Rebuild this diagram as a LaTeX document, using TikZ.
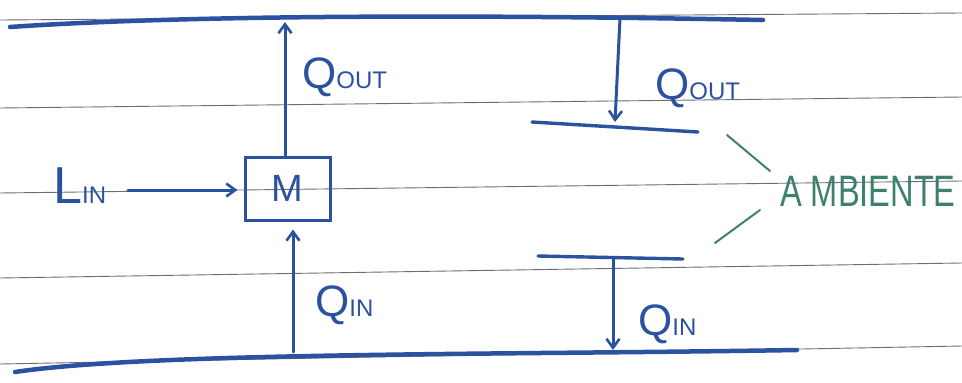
\documentclass[tikz,border=0pt]{standalone}
\usepackage{fontspec}
\setmainfont{Liberation Sans}
\usetikzlibrary{arrows.meta}
\definecolor{ink}{RGB}{42,82,160}
\definecolor{rule}{RGB}{110,110,110}
\definecolor{teal}{RGB}{62,128,112}
\tikzset{
  paper/.style={draw=rule, line width=0.9pt},
  mainline/.style={draw=ink, line width=4.5pt, line cap=round},
  ink/.style={draw=ink, line width=3pt, line cap=round},
  arr/.style={ink, -{Straight Barb[length=9pt,width=13pt,line width=2.6pt]}},
  lbl/.style={text=ink, inner sep=0pt, anchor=base west},
}
\newcommand{\subtxt}[1]{{\fontsize{24}{24}\selectfont #1}}
\begin{document}
\begin{tikzpicture}[x=1pt,y=-1pt]
\useasboundingbox[fill=white] (0,0) rectangle (962,383);
% ruled paper
\draw[paper] (0,20) -- (962,13);
\draw[paper] (0,108) -- (962,97);
\draw[paper] (0,193) -- (962,181);
\draw[paper] (0,278) -- (962,263);
\draw[paper] (0,364) -- (962,346);
% main boundary lines
\draw[mainline] (10,27) .. controls (200,14) and (500,15) .. (763,20);
\draw[mainline] (15,372) .. controls (150,352) and (500,355) .. (797,350);
% machine
\node[draw=ink, line width=3pt, minimum width=85pt, minimum height=63pt,
      text=ink, font=\fontsize{38}{38}\selectfont, inner sep=0pt] (M) at (287.5,188.5) {M};
\coordinate (topA) at (285,22);
\coordinate (botA) at (293,352);
\draw[arr] (M.north -| topA) -- (topA);
\draw[arr, shorten >=8pt] (botA) -- (botA |- M.south);
% L_in
\node[lbl] (Lin) at (53,203) {\fontsize{52}{52}\selectfont L\subtxt{IN}};
\coordinate (linS) at (128,190);
\draw[arr, shorten >=6pt] (linS) -- (linS -| M.west);
% labels left
\node[lbl] (qout1) at (302,88) {\fontsize{44}{44}\selectfont Q\subtxt{OUT}};
\node[lbl] (qin1) at (315,316) {\fontsize{44}{44}\selectfont Q\subtxt{IN}};
% right side
\coordinate (t2) at (620,18);
\coordinate (b1) at (615,122);
\coordinate (h1a) at (532,122);
\coordinate (h1b) at (698,132);
\draw[ink, line width=3.4pt] (h1a) -- (h1b);
\draw[arr] (t2) -- (b1);
\coordinate (h2a) at (538,256);
\coordinate (h2b) at (683,259);
\coordinate (t3) at (613,258);
\coordinate (b3) at (613,350);
\draw[ink, line width=3.4pt] (h2a) -- (h2b);
\draw[arr] (t3) -- (b3);
\node[lbl] (qout2) at (655,99) {\fontsize{44}{44}\selectfont Q\subtxt{OUT}};
\node[lbl] (qin2) at (638,335) {\fontsize{44}{44}\selectfont Q\subtxt{IN}};
% ambiente
\node[text=teal, inner sep=0pt, anchor=base west] (amb) at (780,206)
  {\scalebox{0.74}[1]{\fontsize{44}{44}\selectfont A MBIENTE}};
\coordinate (l1a) at (727,135);
\coordinate (l1b) at (770,171);
\coordinate (l2a) at (760,210);
\coordinate (l2b) at (715,243);
\draw[draw=teal, line width=2pt, line cap=round] (l1a) -- (l1b);
\draw[draw=teal, line width=2pt, line cap=round] (l2a) -- (l2b);
\end{tikzpicture}
\end{document}
